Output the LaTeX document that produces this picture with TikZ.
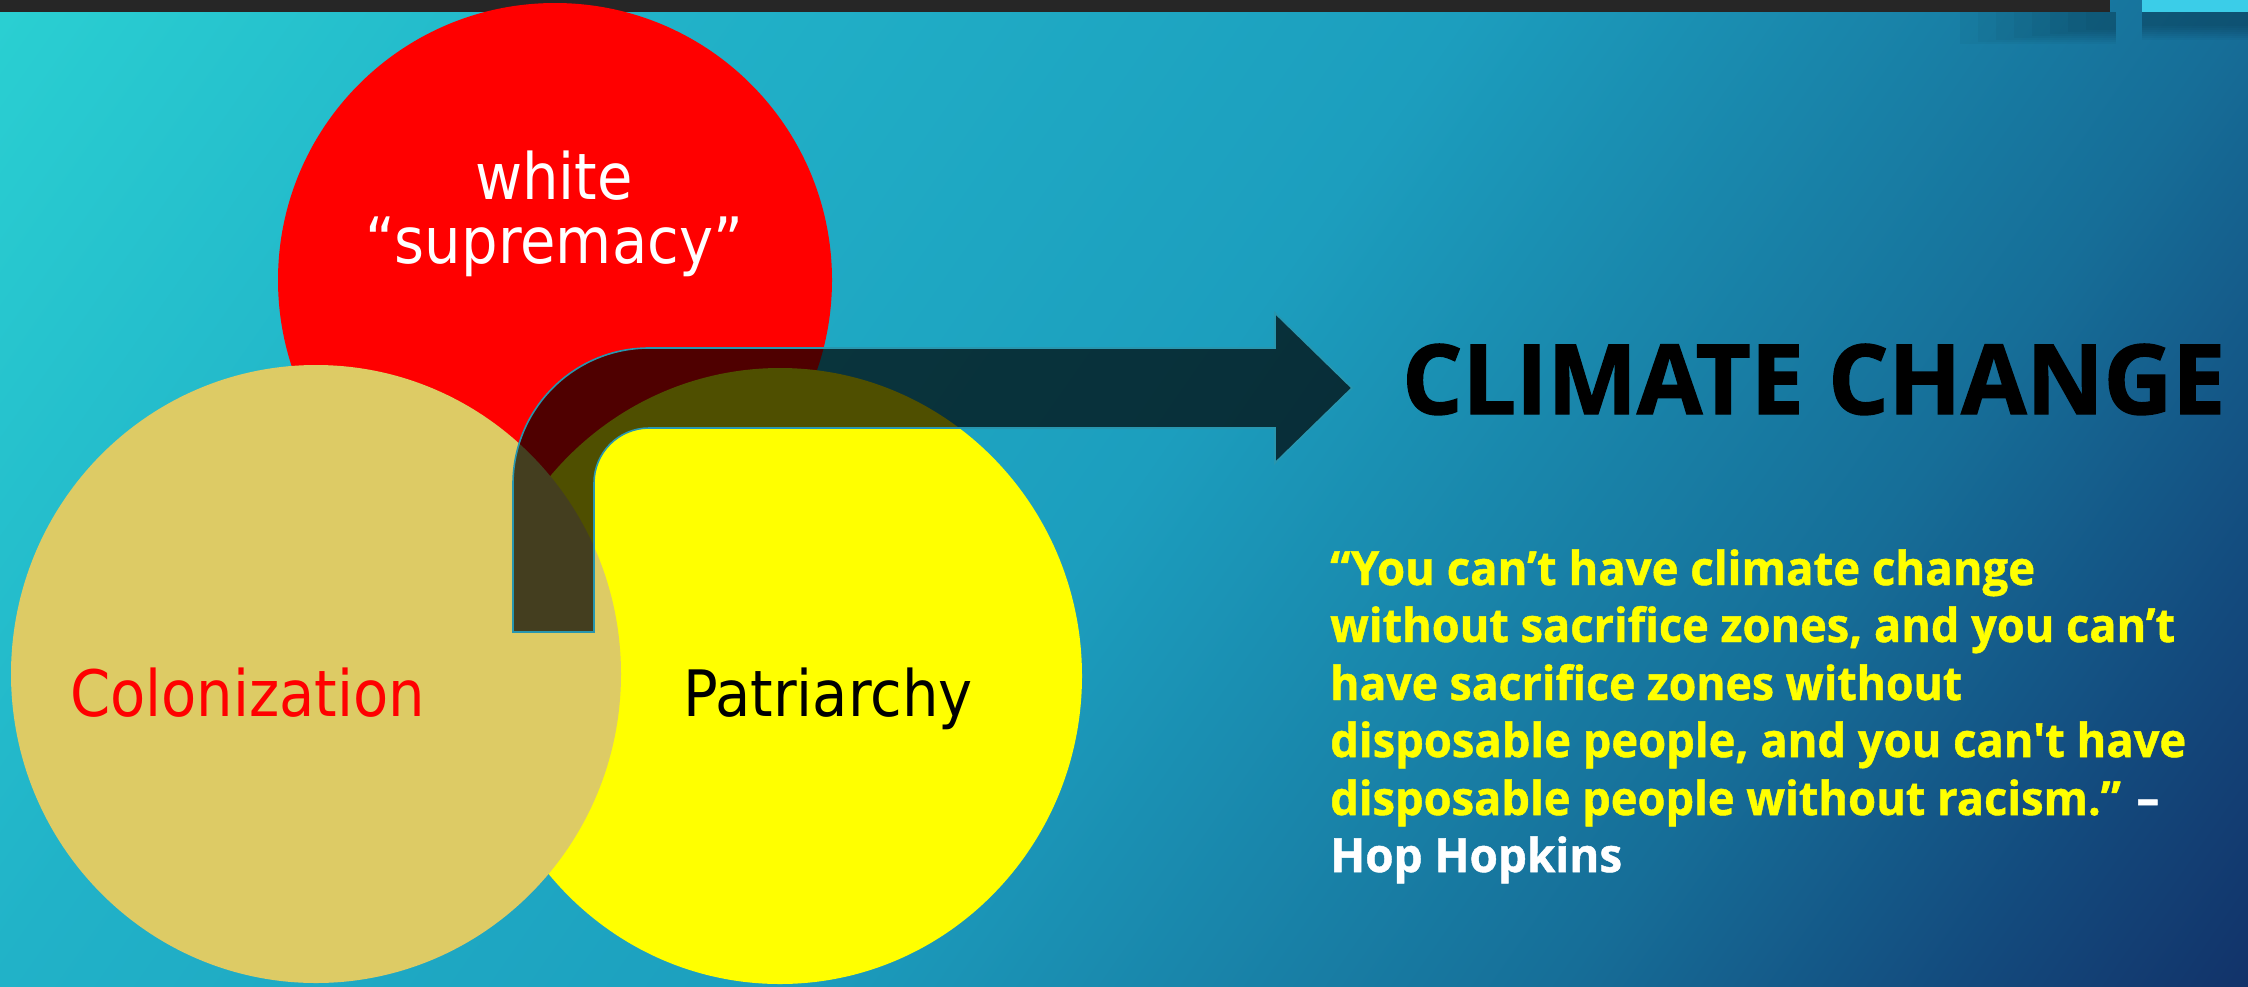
\documentclass[tikz,border=0pt]{standalone}
\usepackage{fontspec}
\usepackage{graphicx}
\newfontfamily\lblfont[FakeStretch=0.9]{DejaVu Sans}
\newfontfamily\qfont[BoldFeatures={FakeBold=1}]{Open Sans}
\newfontfamily\ccfont[BoldFeatures={FakeBold=1.5}]{Open Sans}
\definecolor{tanc}{RGB}{221,203,101}
\definecolor{ylw}{RGB}{255,255,0}
\definecolor{rd}{RGB}{255,0,0}
\definecolor{barc}{RGB}{38,38,38}
\definecolor{cyanblk}{RGB}{59,205,232}
\definecolor{arrowedge}{RGB}{40,150,175}
\pgfdeclarehorizontalshading{bgshade}{100bp}{rgb(0bp)=(0.165,0.816,0.824); rgb(25bp)=(0.165,0.816,0.824); rgb(36.75bp)=(0.129,0.698,0.784); rgb(50bp)=(0.11,0.62,0.745); rgb(63.25bp)=(0.086,0.431,0.596); rgb(70bp)=(0.075,0.29,0.49); rgb(75bp)=(0.071,0.196,0.412); rgb(100bp)=(0.071,0.196,0.412)}
\tikzset{
  lbl/.style={inner sep=0pt, font=\lblfont\fontsize{64}{64}\selectfont},
  quoteline/.style={anchor=base west, inner sep=0pt, font=\qfont\bfseries\fontsize{47}{47}\selectfont, text=ylw},
  bentarrow/.style={fill=black, fill opacity=0.69, draw=arrowedge, line width=1.6pt, line join=miter}
}
\begin{document}
\begin{tikzpicture}[x=1pt,y=-1pt]
\useasboundingbox (0,0) rectangle (2248,986);
% background
\begin{scope}
\clip (0,0) rectangle (2248,986);
\shade[shading=bgshade, transform canvas={rotate around={-35:(1124,493)}}] (-86,-607) rectangle (2334,1593);
\end{scope}
% soft shadow under the top bar
\foreach \i in {0,...,7}{
  \fill[black, opacity=0.03] (1960+\i*18,12) rectangle (2116,{44-\i*2});
  \fill[black, opacity=0.03] (2142,12) rectangle (2248,{40-\i*2});
}
\fill[barc] (0,0) rectangle (2110,12);
\fill[cyanblk] (2142,0) rectangle (2248,12);
% circles
\fill[rd] (555,280) circle[radius=277];
\fill[ylw] (780,676) circle[x radius=302, y radius=308];
\fill[tanc] (316,674) circle[x radius=305, y radius=309];
% bent arrow
\path[bentarrow] (513,632) -- (513,484) arc[start angle=180, end angle=270, radius=136]
  -- (1275,348) -- (1275,313) -- (1352,388) -- (1275,463) -- (1275,428)
  -- (649,428) arc[start angle=270, end angle=180, radius=55] -- (594,632) -- cycle;
% circle labels
\node (ws1) [lbl, anchor=base, text=white] at (554,199) {white};
\node (ws2) [lbl, anchor=base, text=white] at (554,263) {“supremacy”};
\node (col) [lbl, anchor=base west, text=rd] at (70,716) {Colonization};
\node (pat) [lbl, anchor=base west, text=black] at (683,716) {Patriarchy};
% title
\node (cc) [anchor=base west, inner sep=0pt] at (1402,414) {\resizebox{823pt}{70pt}{\ccfont\bfseries CLIMATE CHANGE}};
% quote
\node (q1) [quoteline] at (1330,585) {\resizebox{705pt}{\height}{“You can’t have climate change}};
\node (q2) [quoteline] at (1330,642) {\resizebox{845pt}{\height}{without sacrifice zones, and you can’t}};
\node (q3) [quoteline] at (1330,700) {\resizebox{632pt}{\height}{have sacrifice zones without}};
\node (q4) [quoteline] at (1330,757) {\resizebox{856pt}{\height}{disposable people, and you can't have}};
\node (q5) [quoteline] at (1330,815) {\resizebox{829pt}{\height}{disposable people without racism.” \textcolor{white}{–}}};
\node (q6) [quoteline, text=white] at (1330,872) {\resizebox{292pt}{\height}{Hop Hopkins}};
\end{tikzpicture}
\end{document}
